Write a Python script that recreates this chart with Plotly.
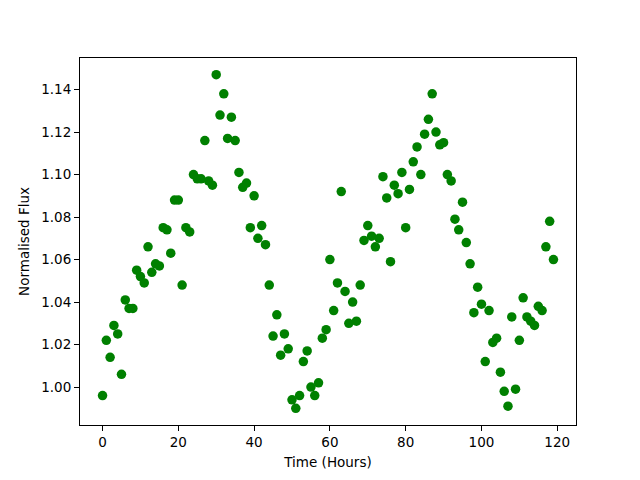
import plotly.graph_objects as go

hours = list(range(120))
flux = [
    0.996, 1.022, 1.014, 1.029, 1.025, 1.006, 1.041, 1.037, 1.037, 1.055,
    1.052, 1.049, 1.066, 1.054, 1.058, 1.057, 1.075, 1.074, 1.063, 1.088,
    1.088, 1.048, 1.075, 1.073, 1.100, 1.098, 1.098, 1.116, 1.097, 1.095,
    1.147, 1.128, 1.138, 1.117, 1.127, 1.116, 1.101, 1.094, 1.096, 1.075,
    1.090, 1.070, 1.076, 1.067, 1.048, 1.024, 1.034, 1.015, 1.025, 1.018,
    0.994, 0.990, 0.996, 1.012, 1.017, 1.000, 0.996, 1.002, 1.023, 1.027,
    1.060, 1.036, 1.049, 1.092, 1.045, 1.030, 1.040, 1.031, 1.048, 1.069,
    1.076, 1.071, 1.066, 1.070, 1.099, 1.089, 1.059, 1.095, 1.091, 1.101,
    1.075, 1.093, 1.106, 1.113, 1.100, 1.119, 1.126, 1.138, 1.120, 1.114,
    1.115, 1.100, 1.097, 1.079, 1.074, 1.087, 1.068, 1.058, 1.035, 1.047,
    1.039, 1.012, 1.036, 1.021, 1.023, 1.007, 0.998, 0.991, 1.033, 0.999,
    1.022, 1.042, 1.033, 1.031, 1.029, 1.038, 1.036, 1.066, 1.078, 1.060,
]
x_ticks = [0, 20, 40, 60, 80, 100, 120]
y_ticks = [1.00, 1.02, 1.04, 1.06, 1.08, 1.10, 1.12, 1.14]

fig = go.Figure(go.Scatter(
    x=hours, y=flux, mode="markers",
    marker=dict(color="#008000", size=9.5, line=dict(width=0)),
))

axis_common = dict(
    showline=True, linecolor="black", linewidth=1, mirror=True,
    ticks="outside", ticklen=5, tickwidth=1, tickcolor="black",
    showgrid=False, zeroline=False,
    tickfont=dict(family="DejaVu Sans", size=13.5, color="black"),
)

fig.update_layout(
    width=640, height=480,
    margin=dict(l=80, r=64, t=58, b=53),
    paper_bgcolor="white", plot_bgcolor="white",
    showlegend=False,
    font=dict(family="DejaVu Sans", size=13.5, color="black"),
    xaxis=dict(
        range=[-5.95, 124.95], tickvals=x_ticks,
        ticktext=[str(v) for v in x_ticks],
        title=dict(text="Time (Hours)", standoff=8,
                   font=dict(family="DejaVu Sans", size=13.5)),
        **axis_common,
    ),
    yaxis=dict(
        range=[0.98215, 1.15485], tickvals=y_ticks,
        ticktext=[f"{v:.2f}" for v in y_ticks],
        title=dict(text="Normalised Flux", standoff=8,
                   font=dict(family="DejaVu Sans", size=13.5)),
        **axis_common,
    ),
)

fig.write_html(
    "out.html",
    config={"displayModeBar": False},
    post_script="document.body.style.margin='0px';",
)
